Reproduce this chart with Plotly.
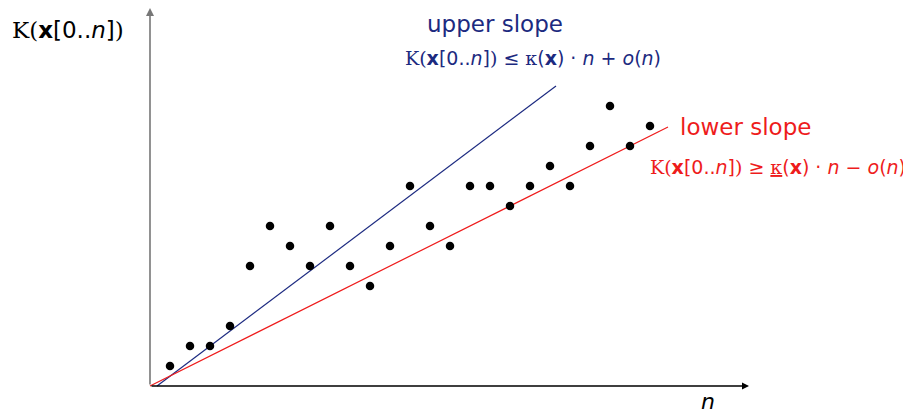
import plotly.graph_objects as go

# data
n_vals = list(range(1, 26))
k_vals = [1, 2, 2, 3, 6, 8, 7, 6, 8, 6, 5, 7, 10, 8, 7, 10, 10, 9, 10, 11, 10, 12, 14, 12, 13]
upper_x = [0.35, 20.3]
upper_y = [0.0, 15.0]
lower_x = [0.0, 25.9]
lower_y = [0.0, 12.95]

NAVY = "#1c2a80"
RED = "#ee1c1c"

W, H, OFF = 903, 407, 8  # page body has an 8px margin
def px(x):
    return (x - OFF) / W
def py(y):
    return 1 - (y - OFF) / H

fig = go.Figure()
fig.add_trace(go.Scatter(x=upper_x, y=upper_y, mode="lines", line=dict(color=NAVY, width=1.2), hoverinfo="skip"))
fig.add_trace(go.Scatter(x=lower_x, y=lower_y, mode="lines", line=dict(color=RED, width=1.2), hoverinfo="skip"))
fig.add_trace(go.Scatter(x=n_vals, y=k_vals, mode="markers", marker=dict(color="black", size=8.5), hoverinfo="skip"))

# axes with arrows
fig.add_annotation(x=0, y=18.9, ax=0, ay=0, xref="x", yref="y", axref="x", ayref="y",
                   showarrow=True, arrowhead=2, arrowsize=1, arrowwidth=1.6, arrowcolor="#777777", text="")
fig.add_annotation(x=29.95, y=0, ax=0, ay=0, xref="x", yref="y", axref="x", ayref="y",
                   showarrow=True, arrowhead=2, arrowsize=1, arrowwidth=1.4, arrowcolor="black", text="")

SERIF = "font-family:'DejaVu Serif'"
def kx():
    return "<span style=\"%s\">K(</span><b>x</b>[0..<i>n</i>]<span style=\"%s\">)</span>" % (SERIF, SERIF)
def formula(rel, under=False):
    kap = "<span style=\"%s\">κ</span>" % SERIF
    if under:
        kap = "<u>" + kap + "</u>"
    op = "+" if rel == "≤" else "−"
    return "%s %s %s(<b>x</b>) · <i>n</i> %s <i>o</i>(<i>n</i>)" % (kx(), rel, kap, op)

fig.add_annotation(xref="paper", yref="paper", x=px(10), y=py(30), xanchor="left", yanchor="middle",
                   showarrow=False, font=dict(size=23, color="black", family="DejaVu Sans"), text=kx())
fig.add_annotation(xref="paper", yref="paper", x=px(495), y=py(24), xanchor="center", yanchor="middle",
                   showarrow=False, font=dict(size=23, color=NAVY, family="DejaVu Sans"), text="upper slope")
fig.add_annotation(xref="paper", yref="paper", x=px(533), y=py(58), xanchor="center", yanchor="middle",
                   showarrow=False, font=dict(size=19, color=NAVY, family="DejaVu Sans"), text=formula("≤"))
fig.add_annotation(xref="paper", yref="paper", x=px(678), y=py(127), xanchor="left", yanchor="middle",
                   showarrow=False, font=dict(size=23, color=RED, family="DejaVu Sans"), text="lower slope")
fig.add_annotation(xref="paper", yref="paper", x=px(908), y=py(167), xanchor="right", yanchor="middle",
                   showarrow=False, font=dict(size=19, color=RED, family="DejaVu Sans"), text=formula("≥", under=True))
fig.add_annotation(xref="paper", yref="paper", x=px(708), y=py(401), xanchor="center", yanchor="middle",
                   showarrow=False, font=dict(size=22, color="black", family="DejaVu Sans"), text="<i>n</i>")

fig.update_layout(
    width=W, height=H, margin=dict(l=0, r=0, t=0, b=0),
    plot_bgcolor="white", paper_bgcolor="white", showlegend=False,
    xaxis=dict(range=[-7.1, -7.1 + W / 20], visible=False, fixedrange=True),
    yaxis=dict(range=[-1.45, -1.45 + H / 20], visible=False, fixedrange=True),
)
fig.write_html("out.html")
